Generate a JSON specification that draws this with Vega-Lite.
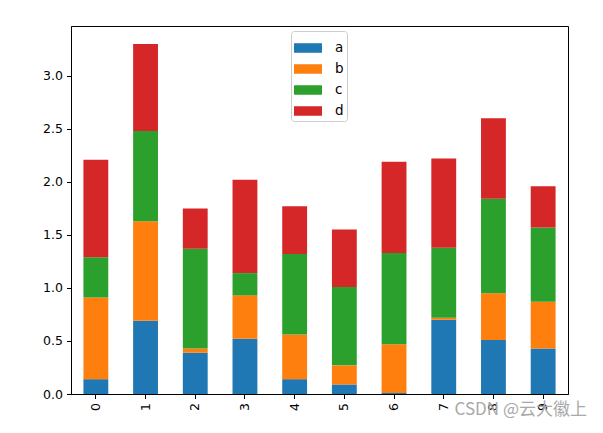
{
  "$schema": "https://vega.github.io/schema/vega-lite/v6.json",
  "width": 497,
  "height": 368,
  "autosize": {"type": "none"},
  "padding": {"left": 71, "top": 26, "right": 35, "bottom": 39},
  "background": "white",
  "config": {
    "font": "DejaVu Sans",
    "view": {"stroke": "black", "strokeWidth": 1},
    "axis": {
      "domainColor": "black",
      "tickColor": "black",
      "labelColor": "black",
      "labelFont": "DejaVu Sans",
      "labelFontSize": 12.5,
      "tickSize": 4.5,
      "labelPadding": 4,
      "grid": false,
      "title": null
    }
  },
  "title": {
    "text": "CSDN @云大徽上",
    "orient": "bottom",
    "anchor": "end",
    "frame": "group",
    "font": "Noto Sans CJK SC",
    "fontSize": 17,
    "fontWeight": "normal",
    "color": "#a8a8a8",
    "baseline": "top",
    "dx": 19,
    "offset": -8
  },
  "data": {
    "values": [
      {"x": "0", "series": "a", "value": 0.14},
      {"x": "0", "series": "b", "value": 0.77},
      {"x": "0", "series": "c", "value": 0.38},
      {"x": "0", "series": "d", "value": 0.92},
      {"x": "1", "series": "a", "value": 0.69},
      {"x": "1", "series": "b", "value": 0.94},
      {"x": "1", "series": "c", "value": 0.85},
      {"x": "1", "series": "d", "value": 0.82},
      {"x": "2", "series": "a", "value": 0.39},
      {"x": "2", "series": "b", "value": 0.04},
      {"x": "2", "series": "c", "value": 0.94},
      {"x": "2", "series": "d", "value": 0.38},
      {"x": "3", "series": "a", "value": 0.52},
      {"x": "3", "series": "b", "value": 0.41},
      {"x": "3", "series": "c", "value": 0.21},
      {"x": "3", "series": "d", "value": 0.88},
      {"x": "4", "series": "a", "value": 0.14},
      {"x": "4", "series": "b", "value": 0.42},
      {"x": "4", "series": "c", "value": 0.76},
      {"x": "4", "series": "d", "value": 0.45},
      {"x": "5", "series": "a", "value": 0.09},
      {"x": "5", "series": "b", "value": 0.18},
      {"x": "5", "series": "c", "value": 0.74},
      {"x": "5", "series": "d", "value": 0.54},
      {"x": "6", "series": "a", "value": 0.01},
      {"x": "6", "series": "b", "value": 0.46},
      {"x": "6", "series": "c", "value": 0.86},
      {"x": "6", "series": "d", "value": 0.86},
      {"x": "7", "series": "a", "value": 0.70},
      {"x": "7", "series": "b", "value": 0.02},
      {"x": "7", "series": "c", "value": 0.66},
      {"x": "7", "series": "d", "value": 0.84},
      {"x": "8", "series": "a", "value": 0.51},
      {"x": "8", "series": "b", "value": 0.44},
      {"x": "8", "series": "c", "value": 0.89},
      {"x": "8", "series": "d", "value": 0.76},
      {"x": "9", "series": "a", "value": 0.43},
      {"x": "9", "series": "b", "value": 0.44},
      {"x": "9", "series": "c", "value": 0.70},
      {"x": "9", "series": "d", "value": 0.39}
    ]
  },
  "mark": {"type": "bar"},
  "encoding": {
    "x": {
      "field": "x",
      "type": "nominal",
      "sort": null,
      "scale": {"paddingInner": 0.5, "paddingOuter": 0.25},
      "axis": {"labelAngle": -90}
    },
    "y": {
      "field": "value",
      "type": "quantitative",
      "aggregate": "sum",
      "stack": "zero",
      "scale": {"domain": [0, 3.47], "nice": false, "zero": true},
      "axis": {"values": [0, 0.5, 1, 1.5, 2, 2.5, 3], "format": ".1f"}
    },
    "order": {"field": "series", "type": "nominal", "sort": "ascending"},
    "color": {
      "field": "series",
      "type": "nominal",
      "scale": {"domain": ["a", "b", "c", "d"], "range": ["#1f77b4", "#ff7f0e", "#2ca02c", "#d62728"]},
      "legend": {
        "title": null,
        "orient": "none",
        "legendX": 220,
        "legendY": 5,
        "padding": 3,
        "strokeColor": "#cccccc",
        "fillColor": "white",
        "cornerRadius": 3,
        "symbolType": "M-1,-0.34H1V0.34H-1Z",
        "symbolSize": 784,
        "symbolStrokeWidth": 0,
        "symbolOpacity": 1,
        "labelFont": "DejaVu Sans",
        "labelFontSize": 13.5,
        "labelColor": "black",
        "labelOffset": 13,
        "rowPadding": -0.5
      }
    }
  }
}
